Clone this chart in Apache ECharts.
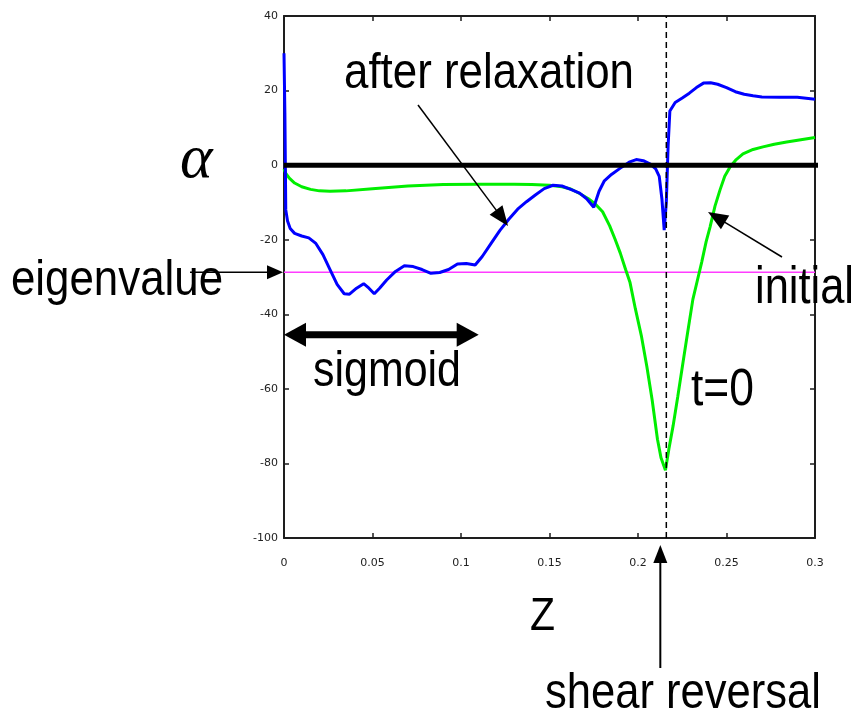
<!DOCTYPE html>
<html>
<head>
<meta charset="utf-8">
<style>
  html, body { margin: 0; padding: 0; background: #ffffff; }
  #chart { width: 855px; height: 714px; }
</style>
<script src="https://cdn.jsdelivr.net/npm/echarts@6/dist/echarts.min.js"></script>
</head>
<body>
<div id="chart"></div>
<script>
// Growth rate alpha along z: profile after relaxation and the initial (t=0) profile
const afterRelaxation = [
  [0, 30], [0.0005, 14], [0.001, -12], [0.002, -15], [0.0035, -17], [0.006, -18.3],
  [0.01, -19], [0.014, -19.5], [0.018, -21], [0.022, -24], [0.026, -28], [0.03, -32],
  [0.034, -34.5], [0.037, -34.6], [0.041, -33], [0.045, -31.8], [0.048, -33], [0.051, -34.5],
  [0.054, -33], [0.058, -30.8], [0.063, -28.5], [0.068, -27], [0.073, -27.2], [0.078, -28],
  [0.083, -29], [0.088, -28.8], [0.093, -28], [0.098, -26.5], [0.103, -26.4], [0.108, -26.8],
  [0.112, -24.5], [0.117, -21], [0.122, -17.5], [0.127, -14.5], [0.132, -11.8], [0.137, -9.8],
  [0.142, -8], [0.147, -6.3], [0.152, -5.4], [0.157, -5.6], [0.162, -6.5], [0.167, -7.5],
  [0.171, -9], [0.175, -11.3], [0.178, -7], [0.181, -4.2], [0.185, -2.5], [0.19, -0.8],
  [0.195, 0.8], [0.199, 1.5], [0.203, 1.2], [0.207, 0.3], [0.21, -1], [0.212, -3],
  [0.2135, -9], [0.2148, -17.4], [0.216, -10], [0.217, 5], [0.218, 14.5], [0.221, 16.8],
  [0.225, 18], [0.229, 19.3], [0.233, 20.8], [0.237, 22], [0.241, 22.1], [0.245, 21.7],
  [0.25, 20.8], [0.255, 19.7], [0.26, 19], [0.265, 18.6], [0.27, 18.3], [0.28, 18.2],
  [0.29, 18.2], [0.3, 17.7]
];

const initialProfile = [
  [0, -1], [0.001, -2.2], [0.003, -3.5], [0.006, -4.8], [0.01, -5.8], [0.015, -6.5],
  [0.02, -6.9], [0.026, -7], [0.035, -6.9], [0.05, -6.3], [0.07, -5.6], [0.09, -5.2],
  [0.11, -5.1], [0.13, -5.1], [0.14, -5.2], [0.15, -5.4], [0.157, -5.8], [0.162, -6.4],
  [0.167, -7.6], [0.172, -9], [0.176, -10.5], [0.18, -12.5], [0.184, -16.3], [0.187, -19.8],
  [0.19, -23.6], [0.193, -28], [0.1955, -31.5], [0.1985, -38.5], [0.202, -46], [0.205, -54],
  [0.208, -63], [0.211, -73.5], [0.213, -78.5], [0.2155, -81.8], [0.2175, -76], [0.2198, -70],
  [0.2225, -62], [0.2254, -53], [0.228, -45], [0.231, -36], [0.2335, -31], [0.236, -26],
  [0.2385, -20.5], [0.2407, -16.6], [0.2435, -11], [0.2463, -6.7], [0.249, -3], [0.252, -0.5],
  [0.2555, 1.5], [0.2593, 3], [0.265, 4.2], [0.2706, 4.9], [0.277, 5.6], [0.284, 6.2],
  [0.292, 6.8], [0.3, 7.4]
];

// Reference levels and marked positions (in axis units)
const eigenvalue = -28.7;
const shearReversalZ = 0.216;
const zeroLineZ = [0, 0.307];
const sigmoidZ = [0, 0.11];

// Axis ranges and ticks
const zRange = [0, 0.3];
const zStep = 0.05;
const alphaRange = [-100, 40];
const alphaStep = 20;

const FRAME = '#1e1e1e';
const TEXT_FAMILY = '"Liberation Sans", Arial, sans-serif';

const chart = echarts.init(document.getElementById('chart'), null, { renderer: 'canvas' });

const boxAxis = {
  axisLine: { show: true, onZero: false, lineStyle: { color: FRAME, width: 2 } },
  axisTick: { show: true, inside: true, length: 5, lineStyle: { color: FRAME, width: 1.5 } },
  splitLine: { show: false }
};

const option = {
  animation: false,
  backgroundColor: '#ffffff',
  grid: { left: 284, top: 16, width: 531, height: 522, containLabel: false },
  xAxis: [
    Object.assign({
      type: 'value', position: 'bottom', min: zRange[0], max: zRange[1], interval: zStep,
      axisLabel: { show: true, margin: 20, color: '#222', fontSize: 11, fontFamily: 'DejaVu Sans' }
    }, boxAxis),
    Object.assign({
      type: 'value', position: 'top', min: zRange[0], max: zRange[1], interval: zStep,
      axisLabel: { show: false }
    }, boxAxis)
  ],
  yAxis: [
    Object.assign({
      type: 'value', position: 'left', min: alphaRange[0], max: alphaRange[1], interval: alphaStep,
      axisLabel: { show: true, margin: 6, color: '#222', fontSize: 11, fontFamily: 'DejaVu Sans' }
    }, boxAxis),
    Object.assign({
      type: 'value', position: 'right', min: alphaRange[0], max: alphaRange[1], interval: alphaStep,
      axisLabel: { show: false }
    }, boxAxis)
  ],
  series: [
    {
      name: 'eigenvalue',
      type: 'line',
      data: zRange.map(z => [z, eigenvalue]),
      showSymbol: false,
      lineStyle: { color: '#ff3cff', width: 1.5 },
      z: 2
    },
    {
      name: 'initial',
      type: 'line',
      data: initialProfile,
      showSymbol: false,
      lineStyle: { color: '#00ee00', width: 3 },
      z: 3
    },
    {
      name: 'after relaxation',
      type: 'line',
      data: afterRelaxation,
      showSymbol: false,
      lineStyle: { color: '#0000ff', width: 3 },
      z: 4
    },
    {
      name: 'shear reversal',
      type: 'line',
      data: alphaRange.map(a => [shearReversalZ, a]),
      showSymbol: false,
      lineStyle: { color: '#000000', width: 1.5, type: [6, 4] },
      z: 5
    },
    {
      name: 'alpha = 0',
      type: 'line',
      data: zeroLineZ.map(z => [z, 0]),
      showSymbol: false,
      clip: false,
      lineStyle: { color: '#000000', width: 5 },
      z: 6
    }
  ]
};

chart.setOption(option);

// Annotations: labels and arrows
function px(z, a) { return chart.convertToPixel({ xAxisIndex: 0, yAxisIndex: 0 }, [z, a]); }

function arrowHead(tip, from, len, half) {
  const dx = tip[0] - from[0], dy = tip[1] - from[1];
  const d = Math.hypot(dx, dy);
  const ux = dx / d, uy = dy / d;
  const bx = tip[0] - ux * len, by = tip[1] - uy * len;
  return {
    type: 'polygon',
    shape: { points: [tip, [bx - uy * half, by + ux * half], [bx + uy * half, by - ux * half]] },
    style: { fill: '#000' },
    z: 100
  };
}

function arrow(from, tip, width, len, half) {
  const dx = tip[0] - from[0], dy = tip[1] - from[1];
  const d = Math.hypot(dx, dy);
  const end = [tip[0] - dx / d * len * 0.8, tip[1] - dy / d * len * 0.8];
  return [
    {
      type: 'line',
      shape: { x1: from[0], y1: from[1], x2: end[0], y2: end[1] },
      style: { stroke: '#000', lineWidth: width },
      z: 100
    },
    arrowHead(tip, from, len, half)
  ];
}

const measureCtx = document.createElement('canvas').getContext('2d');
function textWidth(text, size, family, style) {
  measureCtx.font = (style || 'normal') + ' ' + size + 'px ' + family;
  return measureCtx.measureText(text).width;
}

// Text placed by left edge and baseline, squeezed to the given width
function label(text, left, baseline, size, width, family, style) {
  family = family || TEXT_FAMILY;
  const sx = width ? width / textWidth(text, size, family, style) : 1;
  return {
    type: 'text',
    z: 100,
    x: left,
    y: baseline - size * 0.31,
    scaleX: sx,
    style: {
      text: text,
      x: 0,
      y: 0,
      fill: '#000',
      fontSize: size,
      fontFamily: family,
      fontStyle: style || 'normal',
      align: 'left',
      verticalAlign: 'middle'
    }
  };
}

const eigenPx = px(0, eigenvalue);
const shearBottom = px(shearReversalZ, alphaRange[0]);
const sigL = px(sigmoidZ[0], -45.5);
const sigR = px(sigmoidZ[1], -45.5);

const graphics = [].concat(
  // after relaxation
  arrow([418, 105], [508, 226], 1.5, 20, 8),
  // initial
  arrow([782, 257], [708, 212], 1.5, 20, 8),
  // eigenvalue
  arrow([190, eigenPx[1]], [eigenPx[0] - 1, eigenPx[1]], 1.5, 16, 7),
  // shear reversal
  arrow([shearBottom[0] - 6, 668], [shearBottom[0] - 6, shearBottom[1] + 7], 2, 18, 7),
  // sigmoid double arrow
  [
    {
      type: 'line',
      shape: { x1: sigL[0] + 18, y1: sigL[1], x2: sigR[0] - 18, y2: sigR[1] },
      style: { stroke: '#000', lineWidth: 7 },
      z: 100
    },
    arrowHead([sigL[0], sigL[1]], [sigR[0], sigR[1]], 22, 12),
    arrowHead([sigR[0], sigR[1]], [sigL[0], sigL[1]], 22, 12)
  ],
  [
    label('after relaxation', 344, 90, 50, 290),
    label('eigenvalue', 11, 297, 50, 212),
    label('initial', 755, 305, 52, 99),
    label('sigmoid', 313, 388, 50, 148),
    label('t=0', 691, 407, 51, 63),
    label('Z', 530, 632, 47, 25),
    label('shear reversal', 545, 710, 50, 276),
    label('\u03b1', 180, 180, 62, null, '"Liberation Serif", "DejaVu Serif", serif', 'italic')
  ]
);

chart.setOption({ graphic: graphics });
</script>
</body>
</html>
